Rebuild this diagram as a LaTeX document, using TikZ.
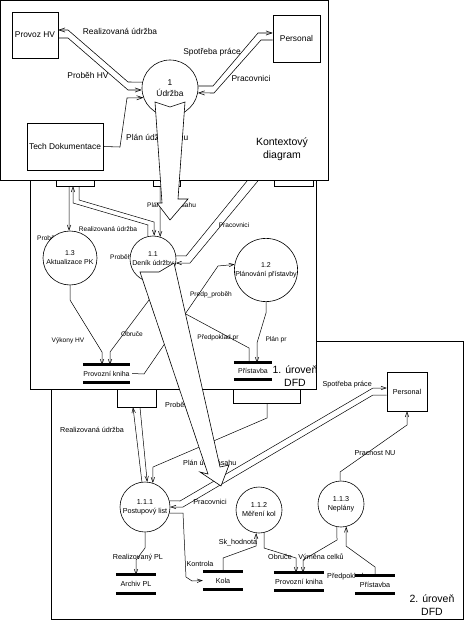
\documentclass[tikz,border=0pt]{standalone}
\usepackage{fontspec}
\setmainfont{Liberation Sans}
\usetikzlibrary{arrows.meta}
\newcommand\fTop{\fontsize{8.4}{11.5}\selectfont}
\newcommand\fMid{\fontsize{6.6}{8}\selectfont}
\newcommand\fMidN{\fontsize{7}{9}\selectfont}
\newcommand\fBot{\fontsize{7.2}{9}\selectfont}
\newcommand\fBig{\fontsize{10.5}{12.5}\selectfont}
\begin{document}
\begin{tikzpicture}[x=1pt,y=-1pt,
  panel/.style={draw,fill=white,line width=0.8pt},
  ent/.style={draw,fill=white,rectangle,inner sep=0pt,line width=0.6pt},
  proc/.style={draw,fill=white,circle,inner sep=0pt,align=center,line width=0.6pt},
  store/.style={fill=white,rectangle,inner sep=0pt},
  bar/.style={line width=3pt},
  fl/.style={line width=0.5pt,-{Straight Barb[length=5pt,width=3.6pt]}},
  flt/.style={line width=0.55pt,-{Straight Barb[length=6pt,width=4.2pt]}},
  ln/.style={line width=0.5pt},
  lab/.style={inner sep=0pt},
  bigarrow/.style={draw,fill=white,line width=0.6pt,line join=miter}
]
\useasboundingbox (0,0) rectangle (465,620);

% ================= bottom panel: 2. uroven DFD =================
\draw[panel] (51,341) rectangle (463,619);
\node[lab,font=\fBot] (bl1) at (92,430) {Realizovaná údržba};
\node[lab,font=\fBot,anchor=west] (bl2) at (165,405) {Proběh HV};
\node[lab,font=\fBot,anchor=west] (bl3) at (183,463) {Plán údž zásahu};
\node[lab,font=\fBot] (bl4) at (210,502) {Pracovnici};
\node[lab,font=\fBot,anchor=east] (bl5) at (372,385) {Spotřeba práce};
\node[lab,font=\fBot] (bl6) at (375,453) {Pracnost NU};
\node[lab,font=\fBot] (bl7) at (138,558) {Realizovaný PL};
\node[lab,font=\fBot] (bl8) at (200,564) {Kontrola};
\node[lab,font=\fBot] (bl9) at (238,543) {Sk\_hodnota};
\node[lab,font=\fBot] (bl10) at (280,557) {Obruče};
\node[lab,font=\fBot] (bl11) at (321,557) {Výměna celků};
\node[lab,font=\fBot,anchor=west] (bl12) at (327,577) {Předpoklad pr};
\node[lab,font=\fBig,align=center] (bcap) at (432,605) {2. úroveň\\DFD};

\node[ent,minimum width=39pt,minimum height=40pt] (bA) at (136.5,387) {};
\node[ent,minimum width=67pt,minimum height=40pt] (bB) at (266.5,383) {};
\node[ent,minimum width=40pt,minimum height=39pt,font=\fBot] (bP) at (407,391.5) {Personal};
\node[proc,minimum size=50pt,font=\fBot] (c111) at (145,507) {1.1.1\\Postupový list};
\node[proc,minimum size=46pt,font=\fBot] (c112) at (259,510) {1.1.2\\Měření kol};
\node[proc,minimum size=46pt,font=\fBot] (c113) at (341,504) {1.1.3\\Neplány};
\node[store,minimum width=40pt,minimum height=18pt,font=\fBot] (archiv) at (136,584) {Archiv PL};
\node[store,minimum width=40pt,minimum height=17pt,font=\fBot] (kola) at (223,580.5) {Kola};
\node[store,minimum width=50pt,minimum height=17pt,font=\fBot] (pk2) at (299,581.5) {Provozní kniha};
\node[store,minimum width=40pt,minimum height=17pt,font=\fBot] (pr2) at (375,584.5) {Přístavba};
\foreach \s in {archiv,kola,pk2,pr2}{
  \draw[bar] (\s.north west) -- (\s.north east);
  \draw[bar] (\s.south west) -- (\s.south east);
}
\draw[fl] (c111.97) -- ([xshift=-3.5pt]bA.south);
\draw[fl] ([xshift=3.5pt]bA.south) -- (c111.85);
\draw[fl] ([xshift=0.5pt]bB.south) -- (267,418) -- (153,467) -- (c111.72);
\draw[fl] (c111.14) -- (180,501) -- (373,388) -- ([yshift=3.5pt]bP.west);
\draw[fl] ([yshift=-3.5pt]bP.west) -- (373,395) -- (183,507) -- (c111.0);
\draw[fl] (c113.92) -- (340,472) -- (407,425) -- (bP.south);
\draw[fl] (c111.-90) -- (145,548) -- (136,560) -- (archiv.north);
\draw[fl] (c111.-14) -- (183,513) -- (186,577) -- (192,581) -- (kola.west);
\draw[fl] (kola.north) -- (223,558) -- (256,546) -- (c112.-97);
\draw[fl] (c112.-77) -- (264,548) -- (296,558) -- ([xshift=-3pt]pk2.north);
\draw[fl] (c113.-100) -- (337,540) -- (303,560) -- ([xshift=4pt]pk2.north);
\draw[fl] (pr2.north) -- (375,567) -- (346,546) -- (c113.-77);

% ================= middle panel: 1. uroven DFD =================
\draw[panel] (30,150) rectangle (316,389);
\node[lab,font=\fMid,anchor=west] (ml1) at (37,238) {Proběh HV};
\node[lab,font=\fMid] (ml2) at (108,229) {Realizovaná údržba};
\node[lab,font=\fMid,anchor=west] (ml3) at (147,205) {Plán údž zásahu};
\node[lab,font=\fMid] (ml4) at (234,225) {Pracovnici};
\node[lab,font=\fMid,anchor=west] (ml5) at (110,257) {Proběh HV};
\node[lab,font=\fMid] (ml6) at (211,295) {Predp\_proběh};
\node[lab,font=\fMid] (ml7) at (68,341) {Výkony HV};
\node[lab,font=\fMid] (ml8) at (132,334) {Obruče};
\node[lab,font=\fMid] (ml9) at (218,338) {Předpoklad pr};
\node[lab,font=\fMid] (ml10) at (276,340) {Plán pr};
\node[lab,font=\fBig,align=center] (mcap) at (295,376) {1. úroveň\\DFD};

\node[ent,minimum width=38pt,minimum height=36pt] (m1) at (75,168) {};
\node[ent,minimum width=27pt,minimum height=36pt] (m2) at (166.5,168) {};
\node[ent,minimum width=39pt,minimum height=36pt] (m3) at (293.5,168) {};
\node[proc,minimum size=54pt,font=\fMidN] (c13) at (70,258) {1.3\\Aktualizace PK};
\node[proc,minimum size=46pt,font=\fMidN] (c11) at (153,259) {1.1\\Deník údržby};
\node[proc,minimum size=60pt,font=\fMidN] (c12) at (266,270) {1.2\\Plánování přístavby};
\node[store,minimum width=47pt,minimum height=17pt,font=\fMidN] (pk1) at (106.5,373.5) {Provozní kniha};
\node[store,minimum width=38pt,minimum height=16pt,font=\fMidN] (pr1) at (253,371) {Přístavba};
\foreach \s in {pk1,pr1}{
  \draw[bar] (\s.north west) -- (\s.north east);
  \draw[bar] (\s.south west) -- (\s.south east);
}
\draw[fl] ([xshift=-6pt]m1.south) -- (c13.92);
\draw[fl] (c11.103) -- (148,225) -- (73,203) -- ([xshift=-2pt]m1.south);
\draw[fl] ([xshift=4pt]m1.south) -- (79,200) -- (154,222) -- (c11.87);
\draw[fl] ([xshift=-6.5pt]m2.south) -- (c11.72);
\draw[fl] (c11.8) -- (186,256) -- (256,170) -- ([yshift=-2pt]m3.west);
\draw[fl] ([yshift=-8pt]m3.west) -- (262,176) -- (190,263) -- (c11.-10);
\draw[fl] (c13.south) -- (70,300) -- (102,352) -- ([xshift=-4.5pt]pk1.north);
\draw[fl] (c11.-100) -- (149,300) -- (110,352) -- ([xshift=3.5pt]pk1.north);
\draw[fl] ([xshift=2pt]pk1.east) -- (144,374) -- (218,266) -- (c12.170);
\draw[fl] ([xshift=-4pt]pr1.north) -- (249,348) -- (184,313) -- (c11.-80);
\draw[fl] (c12.-90) -- (266,313) -- (257,343) -- ([xshift=4pt]pr1.north);

% ================= top panel: Kontextovy diagram =================
\draw[panel] (0.5,0.5) rectangle (328,180);
\node[lab,font=\fTop] (tl1) at (120,31) {Realizovaná údržba};
\node[lab,font=\fTop] (tl2) at (88,75) {Proběh HV};
\node[lab,font=\fTop,anchor=west] (tl3) at (126,137) {Plán údž zásahu};
\node[lab,font=\fTop] (tl4) at (212,52) {Spotřeba práce};
\node[lab,font=\fTop] (tl5) at (251,78) {Pracovnici};
\node[lab,font=\fBig,align=center] (tcap) at (282,149) {Kontextový\\diagram};

\node[ent,minimum width=46pt,minimum height=46pt,font=\fTop] (pv) at (35,35) {Provoz HV};
\node[ent,minimum width=47pt,minimum height=47pt,font=\fTop] (ps) at (296.5,38.5) {Personal};
\node[ent,minimum width=76pt,minimum height=47pt,font=\fTop] (td) at (65,146.5) {Tech Dokumentace};
\node[proc,minimum size=56pt,font=\fTop] (c1) at (170,88) {1\\Údržba};

\draw[flt] (c1.168) -- (128,82) -- (68,30) -- ([yshift=5pt]pv.east);
\draw[flt] ([yshift=-3pt]pv.east) -- (68,38) -- (128,90) -- (c1.184);
\draw[flt] (td.east) -- (120,147) -- (127,98) -- (c1.200);
\draw[flt] (c1.4) -- (213,86) -- (258,33) -- ([yshift=5.5pt]ps.west);
\draw[flt] ([yshift=-1.5pt]ps.west) -- (261,40) -- (214,93) -- (c1.-10);

% ================= big decomposition arrows =================
\draw[bigarrow] (140,272) -- (159,272) -- (174,263) -- (220,467) -- (229,465)
  -- (221,486) -- (200,472) -- (208,474) -- cycle;
\draw[bigarrow] (155,102) -- (170,107) -- (185,102) -- (178,199) -- (188,199)
  -- (170,220) -- (157,203) -- (162,203) -- cycle;
\end{tikzpicture}
\end{document}
